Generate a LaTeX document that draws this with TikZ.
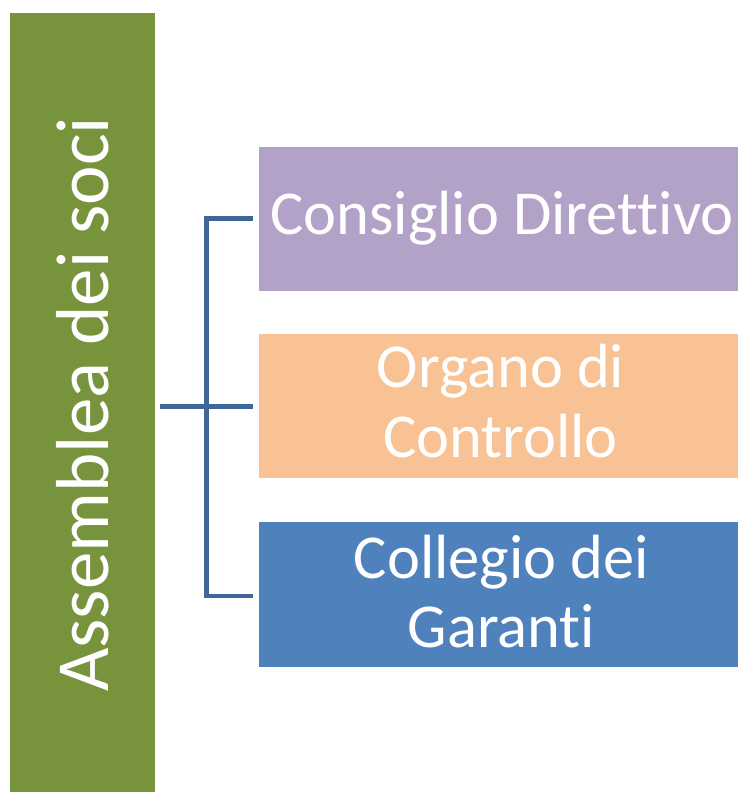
\documentclass[tikz,border=0pt]{standalone}
\usepackage{fontspec}
\setmainfont[Ligatures=CommonOff]{Carlito}
\definecolor{cgreen}{HTML}{77933C}
\definecolor{cpurple}{HTML}{B3A2C7}
\definecolor{corange}{HTML}{F8C294}
\definecolor{cblue}{HTML}{4F81BD}
\definecolor{cline}{HTML}{3E6797}
\begin{document}
\begin{tikzpicture}[x=1pt,y=-1pt,
  box/.style={draw=none,inner sep=0pt,outer sep=0pt},
  boxtext/.style={text=white,font=\fontsize{62.5}{70}\selectfont,anchor=base,inner sep=0pt},
  conn/.style={draw=cline,line width=4.5pt}]
\useasboundingbox (0,0) rectangle (738,792);
% green vertical box
\fill[cgreen] (9.5,13.5) rectangle (155,792);
\node[box,minimum width=145.5pt,minimum height=778.5pt,anchor=north west] (assemblea) at (9.5,13.5) {};
\node[text=white,font=\fontsize{75}{90}\selectfont,rotate=90,anchor=base west,inner sep=0pt] (assemblealbl) at (108,692) {Assemblea dei soci};
% right boxes
\fill[cpurple] (259,146.5) rectangle (738,291);
\node[box,minimum width=479pt,minimum height=144.5pt,anchor=north west] (cd) at (259,146.5) {};
\fill[corange] (259,334) rectangle (738,478);
\node[box,minimum width=479pt,minimum height=144pt,anchor=north west] (oc) at (259,334) {};
\fill[cblue] (259,521.5) rectangle (738,666.5);
\node[box,minimum width=479pt,minimum height=145pt,anchor=north west] (cg) at (259,521.5) {};
% texts
\node[boxtext] (cdt) at (502,234) {Consiglio Direttivo};
\node[boxtext] (oct1) at (500.5,387) {Organo di};
\node[boxtext] (oct2) at (500.5,457.5) {Controllo};
\node[boxtext] (cgt1) at (501.5,578) {Collegio dei};
\node[boxtext] (cgt2) at (501.5,647) {Garanti};
% connectors
\coordinate (j) at (206.7,406.7);
\coordinate (start) at (160,406.7);
\draw[conn] (start) -- (j);
\draw[conn] (cd.west |- 0,218.3) ++(-6.3,0) coordinate (e1) -- (206.7,218.3) -- (206.7,596) -- (252.7,596) coordinate (e3);
\draw[conn] (j) -- (252.7,406.7) coordinate (e2);
\end{tikzpicture}
\end{document}
